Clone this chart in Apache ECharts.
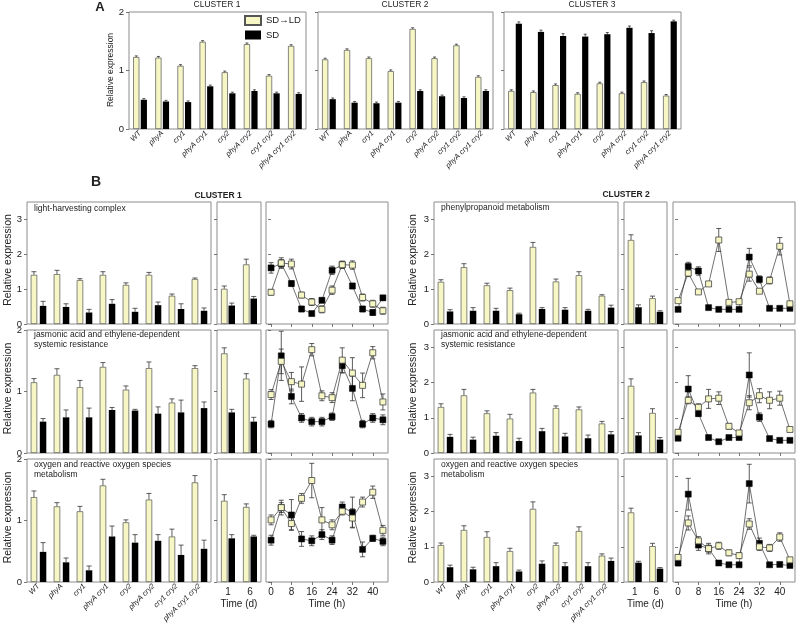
<!DOCTYPE html>
<html><head><meta charset="utf-8">
<script src="https://cdn.jsdelivr.net/npm/echarts@6/dist/echarts.min.js"></script>
<style>html,body{margin:0;padding:0;background:#fff}#c{width:797px;height:627px}</style>
</head><body><div id="c"></div>
<script>
// ---------- categories / ticks ----------
const genotypes = ['WT','phyA','cry1','phyA cry1','cry2','phyA cry2','cry1 cry2','phyA cry1 cry2'];
const days = ['1','6'];
const hours = [0,4,8,12,16,20,24,28,32,36,40,44];
const hourTicks = [0,8,16,24,32,40];
const yTicksA = [0,1,2];
const yTicks2 = [0,1,2];
const yTicks3 = [0,1,2,3];

// ---------- panel A ----------
const a1Ld = [1.23,1.22,1.08,1.49,0.97,1.45,0.91,1.42];
const a1Sd = [0.50,0.47,0.46,0.73,0.61,0.65,0.61,0.60];
const a2Ld = [1.19,1.35,1.21,0.99,1.71,1.21,1.43,0.89];
const a2Sd = [0.51,0.45,0.44,0.45,0.65,0.56,0.53,0.65];
const a3Ld = [0.65,0.63,0.75,0.60,0.78,0.61,0.80,0.57];
const a3Sd = [1.80,1.66,1.59,1.58,1.62,1.73,1.64,1.84];
const aErr = [0.02,0.02,0.02,0.02,0.02,0.02,0.02,0.02];
const a3SdErr = [0.03,0.03,0.04,0.04,0.03,0.03,0.04,0.02];

// ---------- panel B, cluster 1 ----------
// row 1: light-harvesting complex
const c1r1Ld = [1.41,1.43,1.26,1.41,1.12,1.41,0.81,1.29];
const c1r1LdE = [0.09,0.11,0.04,0.09,0.06,0.07,0.05,0.03];
const c1r1Sd = [0.52,0.49,0.33,0.58,0.35,0.54,0.43,0.38];
const c1r1SdE = [0.13,0.09,0.09,0.12,0.10,0.09,0.15,0.08];
const c1r1dLd = [1.01,1.71], c1r1dLdE = [0.08,0.15];
const c1r1dSd = [0.53,0.73], c1r1dSdE = [0.07,0.06];
const c1r1hSd = [1.61,1.73,1.16,0.43,0.30,0.68,1.54,1.70,1.09,0.43,0.33,0.75];
const c1r1hSdE = [0.15,0.12,0.08,0.08,0.06,0.07,0.12,0.10,0.08,0.08,0.08,0.07];
const c1r1hLd = [0.91,1.75,1.72,0.83,0.63,0.42,0.97,1.70,1.69,0.76,0.58,0.38];
const c1r1hLdE = [0.08,0.15,0.14,0.08,0.10,0.10,0.12,0.10,0.12,0.10,0.10,0.10];
// row 2: jasmonic acid
const c1r2Ld = [1.15,1.27,1.07,1.40,1.03,1.38,0.82,1.38];
const c1r2LdE = [0.06,0.10,0.11,0.07,0.06,0.10,0.06,0.04];
const c1r2Sd = [0.51,0.58,0.58,0.70,0.69,0.64,0.66,0.73];
const c1r2SdE = [0.05,0.12,0.15,0.04,0.02,0.11,0.20,0.10];
const c1r2dLd = [1.62,1.21], c1r2dLdE = [0.09,0.08];
const c1r2dSd = [0.66,0.51], c1r2dSdE = [0.05,0.07];
const c1r2hSd = [0.47,1.58,0.92,0.57,0.51,0.51,0.59,1.42,1.05,0.47,0.57,0.54];
const c1r2hSdE = [0.06,0.40,0.12,0.07,0.07,0.07,0.06,0.12,0.20,0.06,0.07,0.08];
const c1r2hLd = [0.95,1.49,1.16,1.12,1.68,0.93,0.90,1.51,1.30,1.10,1.63,0.83];
const c1r2hLdE = [0.08,0.20,0.15,0.28,0.10,0.08,0.08,0.20,0.25,0.20,0.10,0.13];
// row 3: oxygen / ROS
const c1r3Ld = [1.38,1.23,1.15,1.57,0.97,1.34,0.74,1.62];
const c1r3LdE = [0.10,0.06,0.08,0.10,0.04,0.10,0.12,0.11];
const c1r3Sd = [0.49,0.32,0.19,0.74,0.64,0.67,0.44,0.54];
const c1r3SdE = [0.15,0.07,0.07,0.17,0.13,0.10,0.16,0.14];
const c1r3dLd = [1.32,1.22], c1r3dLdE = [0.10,0.05];
const c1r3dSd = [0.71,0.74], c1r3dSdE = [0.06,0.02];
const c1r3hSd = [0.68,1.21,1.09,0.70,0.67,0.77,0.68,1.22,1.13,0.53,0.71,0.66];
const c1r3hSdE = [0.08,0.12,0.25,0.12,0.08,0.08,0.07,0.08,0.25,0.12,0.05,0.07];
const c1r3hLd = [1.01,1.21,0.95,1.36,1.65,1.01,0.93,1.15,1.04,1.30,1.46,0.84];
const c1r3hLdE = [0.08,0.08,0.10,0.08,0.28,0.20,0.08,0.06,0.15,0.08,0.10,0.08];

// ---------- panel B, cluster 2 ----------
const c2r1Ld = [1.21,1.63,1.11,0.97,2.21,1.22,1.40,0.81];
const c2r1LdE = [0.06,0.10,0.06,0.06,0.13,0.07,0.10,0.03];
const c2r1Sd = [0.36,0.38,0.38,0.28,0.43,0.41,0.38,0.47];
const c2r1SdE = [0.05,0.09,0.07,0.03,0.04,0.06,0.04,0.07];
const c2r1dLd = [2.41,0.74], c2r1dLdE = [0.15,0.06];
const c2r1dSd = [0.48,0.35], c2r1dSdE = [0.07,0.03];
const c2r1hSd = [0.42,1.65,1.52,0.47,0.42,0.42,0.42,1.92,1.28,0.45,0.45,0.45];
const c2r1hSdE = [0.03,0.12,0.12,0.04,0.03,0.03,0.03,0.25,0.10,0.03,0.03,0.03];
const c2r1hLd = [0.67,1.46,0.92,1.15,2.41,0.62,0.64,1.43,0.94,1.25,2.23,0.58];
const c2r1hLdE = [0.05,0.10,0.05,0.05,0.33,0.05,0.05,0.20,0.05,0.10,0.25,0.05];

const c2r2Ld = [1.31,1.64,1.13,0.98,1.72,1.28,1.24,0.84];
const c2r2LdE = [0.09,0.17,0.07,0.12,0.09,0.06,0.07,0.06];
const c2r2Sd = [0.46,0.38,0.49,0.34,0.62,0.47,0.42,0.53];
const c2r2SdE = [0.07,0.07,0.09,0.08,0.08,0.09,0.09,0.08];
const c2r2dLd = [1.91,1.14], c2r2dLdE = [0.20,0.12];
const c2r2dSd = [0.50,0.38], c2r2dSdE = [0.08,0.06];
const c2r2hSd = [0.42,1.82,1.12,0.44,0.32,0.44,0.44,2.22,1.02,0.41,0.36,0.36];
const c2r2hSdE = [0.05,0.38,0.08,0.04,0.04,0.05,0.05,0.63,0.12,0.04,0.04,0.04];
const c2r2hLd = [0.59,1.50,1.30,1.54,1.56,0.76,0.57,1.43,1.63,1.50,1.56,0.67];
const c2r2hLdE = [0.06,0.10,0.10,0.27,0.18,0.08,0.06,0.20,0.20,0.24,0.20,0.06];

const c2r3Ld = [1.05,1.48,1.28,0.88,2.08,1.05,1.45,0.75];
const c2r3LdE = [0.06,0.12,0.15,0.08,0.20,0.06,0.12,0.05];
const c2r3Sd = [0.42,0.36,0.45,0.30,0.52,0.45,0.45,0.60];
const c2r3SdE = [0.06,0.06,0.10,0.04,0.08,0.10,0.10,0.08];
const c2r3dLd = [1.98,1.02], c2r3dLdE = [0.12,0.08];
const c2r3dSd = [0.55,0.38], c2r3dSdE = [0.04,0.03];
const c2r3hSd = [0.54,2.50,1.05,0.95,0.54,0.49,0.49,2.80,1.10,0.49,0.50,0.47];
const c2r3hSdE = [0.08,0.45,0.15,0.15,0.06,0.05,0.05,0.55,0.15,0.05,0.05,0.05];
const c2r3hLd = [0.70,1.68,1.17,0.95,1.03,0.83,0.75,1.65,1.00,0.97,1.28,0.63];
const c2r3hLdE = [0.08,0.20,0.12,0.10,0.10,0.08,0.08,0.15,0.10,0.10,0.12,0.06];

// ---------- styling ----------
const FONT = 'Liberation Sans, Arial, sans-serif';
const YEL = '#f6f7c4';
const EDGE = '#555';
const FRAME = '#8c8c8c';
const TXT = '#222';

const grids = [], xAxes = [], yAxes = [], series = [], graphics = [];

function addGrid(l, t, w, h) {
  grids.push({left: l, top: t, width: w, height: h, show: true, borderColor: FRAME, borderWidth: 1,
    backgroundColor: 'rgba(0,0,0,0)', containLabel: false});
  return grids.length - 1;
}
function yAxis(gi, max, ticks, showLabel) {
  yAxes.push({type: 'value', gridIndex: gi, min: 0, max: max,
    axisLine: {show: false}, splitLine: {show: false},
    axisTick: {show: true, inside: false, length: 3, customValues: ticks, lineStyle: {color: '#555', width: 0.8}},
    axisLabel: {show: showLabel, customValues: ticks, fontSize: 9.5, color: TXT, margin: 5, fontFamily: FONT}});
}
function catAxis(gi, data, showLabel, rotate, fs, name) {
  xAxes.push({type: 'category', gridIndex: gi, data: data,
    axisLine: {show: false}, axisTick: {show: false}, splitLine: {show: false},
    axisLabel: {show: showLabel, interval: 0, rotate: rotate, fontStyle: rotate ? 'italic' : 'normal',
      fontSize: fs, color: TXT, margin: rotate ? 3 : 5, fontFamily: FONT},
    name: name || '', nameLocation: 'middle', nameGap: 17,
    nameTextStyle: {fontSize: 10, color: TXT, fontFamily: FONT}});
}
function hourAxis(gi, showLabel) {
  xAxes.push({type: 'value', gridIndex: gi, min: -2, max: 46,
    axisLine: {show: false}, splitLine: {show: false},
    axisTick: {show: true, inside: false, length: 3, customValues: hourTicks, lineStyle: {color: '#555', width: 0.8}},
    axisLabel: {show: showLabel, customValues: hourTicks, fontSize: 10, color: TXT, margin: 5, fontFamily: FONT},
    name: showLabel ? 'Time (h)' : '', nameLocation: 'middle', nameGap: 17,
    nameTextStyle: {fontSize: 10, color: TXT, fontFamily: FONT}});
}
function errSeries(ai, xs, vals, errs, offset, both, cw, z) {
  return {type: 'custom', xAxisIndex: ai, yAxisIndex: ai, z: z, silent: true, animation: false,
    data: vals.map((v, i) => [xs[i], v, errs[i]]),
    renderItem: function (params, api) {
      const x = api.value(0), v = api.value(1), e = api.value(2);
      const top = api.coord([x, v + e]);
      const bot = api.coord([x, both ? v - e : v]);
      const cx = top[0] + offset;
      const st = {stroke: '#333', lineWidth: 0.8};
      const ch = [
        {type: 'line', shape: {x1: cx, y1: bot[1], x2: cx, y2: top[1]}, style: st},
        {type: 'line', shape: {x1: cx - cw, y1: top[1], x2: cx + cw, y2: top[1]}, style: st}
      ];
      if (both) ch.push({type: 'line', shape: {x1: cx - cw, y1: bot[1], x2: cx + cw, y2: bot[1]}, style: st});
      return {type: 'group', children: ch};
    }};
}
function bars(ai, n, ld, ldE, sd, sdE, w, gap, cw, names) {
  const idx = Array.from({length: n}, (_, i) => i);
  series.push({type: 'bar', name: names ? names[0] : 'ld' + ai, xAxisIndex: ai, yAxisIndex: ai, data: ld,
    barWidth: w, barGap: (gap * 100) + '%', z: 2,
    itemStyle: {color: YEL, borderColor: EDGE, borderWidth: 0.7}});
  series.push({type: 'bar', name: names ? names[1] : 'sd' + ai, xAxisIndex: ai, yAxisIndex: ai, data: sd,
    barWidth: w, barGap: (gap * 100) + '%', z: 2,
    itemStyle: {color: '#000'}});
  const off = w * (1 + gap) / 2;
  series.push(errSeries(ai, idx, ld, ldE, -off, false, cw, 3));
  series.push(errSeries(ai, idx, sd, sdE, off, false, cw, 3));
}
function lines(ai, sd, sdE, ld, ldE) {
  series.push(errSeries(ai, hours, sd, sdE, 0, true, 2.5, 2));
  series.push(errSeries(ai, hours, ld, ldE, 0, true, 2.5, 2));
  series.push({type: 'line', name: 'lsd' + ai, xAxisIndex: ai, yAxisIndex: ai, data: hours.map((h, i) => [h, sd[i]]),
    symbol: 'rect', symbolSize: 6, showSymbol: true, z: 4,
    lineStyle: {color: '#333', width: 0.7}, itemStyle: {color: '#000', borderColor: '#000', borderWidth: 0.5}});
  series.push({type: 'line', name: 'lld' + ai, xAxisIndex: ai, yAxisIndex: ai, data: hours.map((h, i) => [h, ld[i]]),
    symbol: 'rect', symbolSize: 6, showSymbol: true, z: 5,
    lineStyle: {color: '#333', width: 0.7}, itemStyle: {color: YEL, borderColor: '#444', borderWidth: 0.8}});
}
function txt(x, y, s, opt) {
  opt = opt || {};
  graphics.push({type: 'text', x: x, y: y, rotation: opt.rot || 0, silent: true,
    style: {text: s, fontSize: opt.fs || 9, fontFamily: FONT, fontWeight: opt.bold ? 'bold' : 'normal',
      fill: TXT, align: opt.align || 'center', verticalAlign: opt.va || 'middle', lineHeight: opt.lh || 10}});
}

// ---------- panel A ----------
const aCols = [[129, 177], [318, 175], [504, 177]];
const aData = [[a1Ld, aErr, a1Sd, aErr], [a2Ld, aErr, a2Sd, aErr], [a3Ld, aErr, a3Sd, a3SdErr]];
aCols.forEach((c, k) => {
  const gi = addGrid(c[0], 12, c[1], 117);
  catAxis(gi, genotypes, true, 45, 7.5);
  yAxis(gi, 2, yTicksA, k === 0);
  const d = aData[k];
  bars(gi, 8, d[0], d[1], d[2], d[3], 6.2, 0.22, 1.5, ['SD→LD', 'SD']);
});
txt(100, 7, 'A', {fs: 13, bold: true});
txt(217, 5, 'CLUSTER 1', {fs: 8.5});
txt(405, 5, 'CLUSTER 2', {fs: 8.5});
txt(592, 5, 'CLUSTER 3', {fs: 8.5});
txt(111, 70, 'Relative expression', {fs: 8.5, rot: Math.PI / 2});

// ---------- panel B ----------
const rows = [[202, 122], [330, 123], [459, 123]];
const clusters = [
  {cols: [[27, 184], [217, 44], [266, 122]], ylab: 8, maxes: [3.5, 2, 2],
   rows: [
     [c1r1Ld, c1r1LdE, c1r1Sd, c1r1SdE, c1r1dLd, c1r1dLdE, c1r1dSd, c1r1dSdE, c1r1hSd, c1r1hSdE, c1r1hLd, c1r1hLdE],
     [c1r2Ld, c1r2LdE, c1r2Sd, c1r2SdE, c1r2dLd, c1r2dLdE, c1r2dSd, c1r2dSdE, c1r2hSd, c1r2hSdE, c1r2hLd, c1r2hLdE],
     [c1r3Ld, c1r3LdE, c1r3Sd, c1r3SdE, c1r3dLd, c1r3dLdE, c1r3dSd, c1r3dSdE, c1r3hSd, c1r3hSdE, c1r3hLd, c1r3hLdE]]},
  {cols: [[434, 184], [624, 43], [673, 122]], ylab: 413, maxes: [3.5, 3.5, 3.5],
   rows: [
     [c2r1Ld, c2r1LdE, c2r1Sd, c2r1SdE, c2r1dLd, c2r1dLdE, c2r1dSd, c2r1dSdE, c2r1hSd, c2r1hSdE, c2r1hLd, c2r1hLdE],
     [c2r2Ld, c2r2LdE, c2r2Sd, c2r2SdE, c2r2dLd, c2r2dLdE, c2r2dSd, c2r2dSdE, c2r2hSd, c2r2hSdE, c2r2hLd, c2r2hLdE],
     [c2r3Ld, c2r3LdE, c2r3Sd, c2r3SdE, c2r3dLd, c2r3dLdE, c2r3dSd, c2r3dSdE, c2r3hSd, c2r3hSdE, c2r3hLd, c2r3hLdE]]}
];
clusters.forEach(cl => {
  rows.forEach((r, ri) => {
    const last = ri === 2;
    const max = cl.maxes[ri];
    const ticks = max > 3 ? yTicks3 : yTicks2;
    const d = cl.rows[ri];
    // genotypes
    let gi = addGrid(cl.cols[0][0], r[0], cl.cols[0][1], r[1]);
    catAxis(gi, genotypes, last, 45, 7.5);
    yAxis(gi, max, ticks, true);
    bars(gi, 8, d[0], d[1], d[2], d[3], 6.5, 0.4, 2.5);
    // days
    gi = addGrid(cl.cols[1][0], r[0], cl.cols[1][1], r[1]);
    catAxis(gi, days, last, 0, 10, last ? 'Time (d)' : '');
    yAxis(gi, max, ticks, false);
    bars(gi, 2, d[4], d[5], d[6], d[7], 6.5, 0.15, 2.5);
    // hours
    gi = addGrid(cl.cols[2][0], r[0], cl.cols[2][1], r[1]);
    hourAxis(gi, last);
    yAxis(gi, max, ticks, false);
    lines(gi, d[8], d[9], d[10], d[11]);
    txt(cl.ylab, r[0] + r[1] / 2 - 3, 'Relative expression', {fs: 10.5, rot: Math.PI / 2});
  });
});
txt(96, 182, 'B', {fs: 14, bold: true});
txt(218, 195.5, 'CLUSTER 1', {fs: 8.5, bold: true});
txt(626, 195, 'CLUSTER 2', {fs: 8.5, bold: true});
const notes = [
  [34, 209, 'light-harvesting complex'],
  [34, 330, 'jasmonic acid and ethylene-dependent\nsystemic resistance'],
  [34, 460, 'oxygen and reactive oxygen species\nmetabolism'],
  [441, 208, 'phenylpropanoid metabolism'],
  [441, 330, 'jasmonic acid and ethylene-dependent\nsystemic resistance'],
  [441, 460, 'oxygen and reactive oxygen species\nmetabolism']
];
notes.forEach(n => {
  if (n[2].indexOf('\n') >= 0) txt(n[0], n[1], n[2], {fs: 8.5, align: 'left', va: 'top', lh: 10});
  else txt(n[0], n[1], n[2], {fs: 8.5, align: 'left', va: 'middle'});
});

const chart = echarts.init(document.getElementById('c'), null, {renderer: 'canvas'});
chart.setOption({
  animation: false,
  backgroundColor: '#fff',
  grid: grids, xAxis: xAxes, yAxis: yAxes, series: series,
  legend: {show: true, orient: 'vertical', left: 244, top: 15, itemWidth: 16, itemHeight: 9, itemGap: 4, padding: 0,
    data: [{name: 'SD→LD', icon: 'rect'}, {name: 'SD', icon: 'rect'}],
    textStyle: {fontSize: 9.5, color: TXT, fontFamily: FONT}, selectedMode: false},
  graphic: graphics
});
</script></body></html>
